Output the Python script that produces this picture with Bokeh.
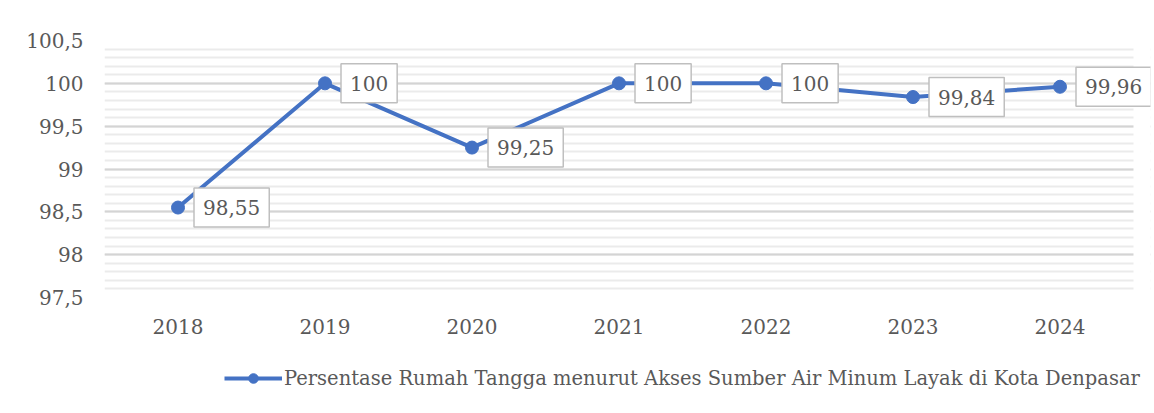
from bokeh.plotting import figure
from bokeh.layouts import column
from bokeh.models import (Range1d, ColumnDataSource, FixedTicker, CustomJSTickFormatter,
                          Legend, LegendItem, Label, BoxAnnotation)
from bokeh.embed import file_html
from bokeh.resources import INLINE

years = ["2018", "2019", "2020", "2021", "2022", "2023", "2024"]
values = [98.55, 100, 99.25, 100, 100, 99.84, 99.96]
label_texts = [("%g" % v).replace(".", ",") for v in values]
y_ticks = [97.5, 98, 98.5, 99, 99.5, 100, 100.5]
series_name = "Persentase Rumah Tangga menurut Akses Sumber Air Minum Layak di Kota Denpasar"

FONT = "DejaVu Serif"
BLUE = "#4472C4"
GREY_TXT = "#595959"

x_num = [int(y) for y in years]
src = ColumnDataSource(dict(x=x_num, y=values, lbl=label_texts))

x_start = x_num[0] - 0.5
x_last = x_num[-1] + 0.5
p = figure(width=1154, height=348, x_range=Range1d(x_start, x_last + 17 / 147),
           y_range=Range1d(97.5, 100.5), output_backend="svg", toolbar_location=None,
           min_border_left=104, min_border_right=4, min_border_top=40, min_border_bottom=51)
p.outline_line_color = None
p.background_fill_color = "white"

# grids
p.xgrid.grid_line_color = None
p.ygrid.ticker = FixedTicker(ticks=y_ticks, minor_ticks=[97.5 + 0.1 * i for i in range(31)])
p.ygrid.grid_line_color = "#d4d4d4"
p.ygrid.grid_line_width = 2
p.ygrid.minor_grid_line_color = "#ebebeb"
p.ygrid.minor_grid_line_width = 2
# hide gridlines in the extra room kept for the last data label
p.add_layout(BoxAnnotation(left=x_last, fill_color="white", fill_alpha=1,
                           line_alpha=0, level="underlay"))

# axes
p.xaxis.ticker = FixedTicker(ticks=x_num)
p.yaxis.ticker = FixedTicker(ticks=y_ticks)
p.yaxis.formatter = CustomJSTickFormatter(code="return tick.toString().replace('.', ',');")
for ax in (p.xaxis[0], p.yaxis[0]):
    ax.axis_line_color = None
    ax.major_tick_line_color = None
    ax.minor_tick_line_color = None
    ax.major_label_text_font = FONT
    ax.major_label_text_font_size = "20px"
    ax.major_label_text_color = GREY_TXT
p.yaxis.major_label_standoff = 15
p.xaxis.major_label_standoff = 15

ln = p.line("x", "y", source=src, line_color=BLUE, line_width=4)
sc = p.scatter("x", "y", source=src, size=13, fill_color=BLUE, line_color=BLUE)

for xv, yv, t in zip(x_num, values, label_texts):
    p.add_layout(Label(x=xv, y=yv, text=t, x_offset=16, y_offset=0,
                       text_baseline="middle", text_align="left", text_font=FONT,
                       text_font_size="20px", text_color=GREY_TXT,
                       background_fill_color="white", border_line_color="#bfbfbf",
                       border_line_width=1.5,
                       padding=dict(left=9, right=9, top=12, bottom=12)))

# legend strip below the chart (its glyphs use the same data, kept out of view)
lg = figure(width=1154, height=60, output_backend="svg", toolbar_location=None,
            x_axis_type=None, y_axis_type=None, min_border=0,
            x_range=Range1d(0, 1), y_range=Range1d(0, 1))
lg.outline_line_color = None
lg.xgrid.visible = False
lg.ygrid.visible = False
l_ln = lg.line("x", "y", source=src, line_color=BLUE, line_width=4)
l_sc = lg.scatter("x", "y", source=src, size=14, fill_color=BLUE, line_color=BLUE)
legend = Legend(items=[LegendItem(label=series_name, renderers=[l_ln, l_sc])],
                location=(120, 18), orientation="horizontal",
                label_text_font=FONT, label_text_font_size="19.5px",
                label_text_color=GREY_TXT, glyph_width=58, glyph_height=24,
                label_standoff=2, padding=0, margin=0,
                border_line_color=None, background_fill_alpha=0)
lg.add_layout(legend, "center")

layout = column(p, lg, spacing=0)
open("out.html", "w").write(file_html(layout, INLINE))
